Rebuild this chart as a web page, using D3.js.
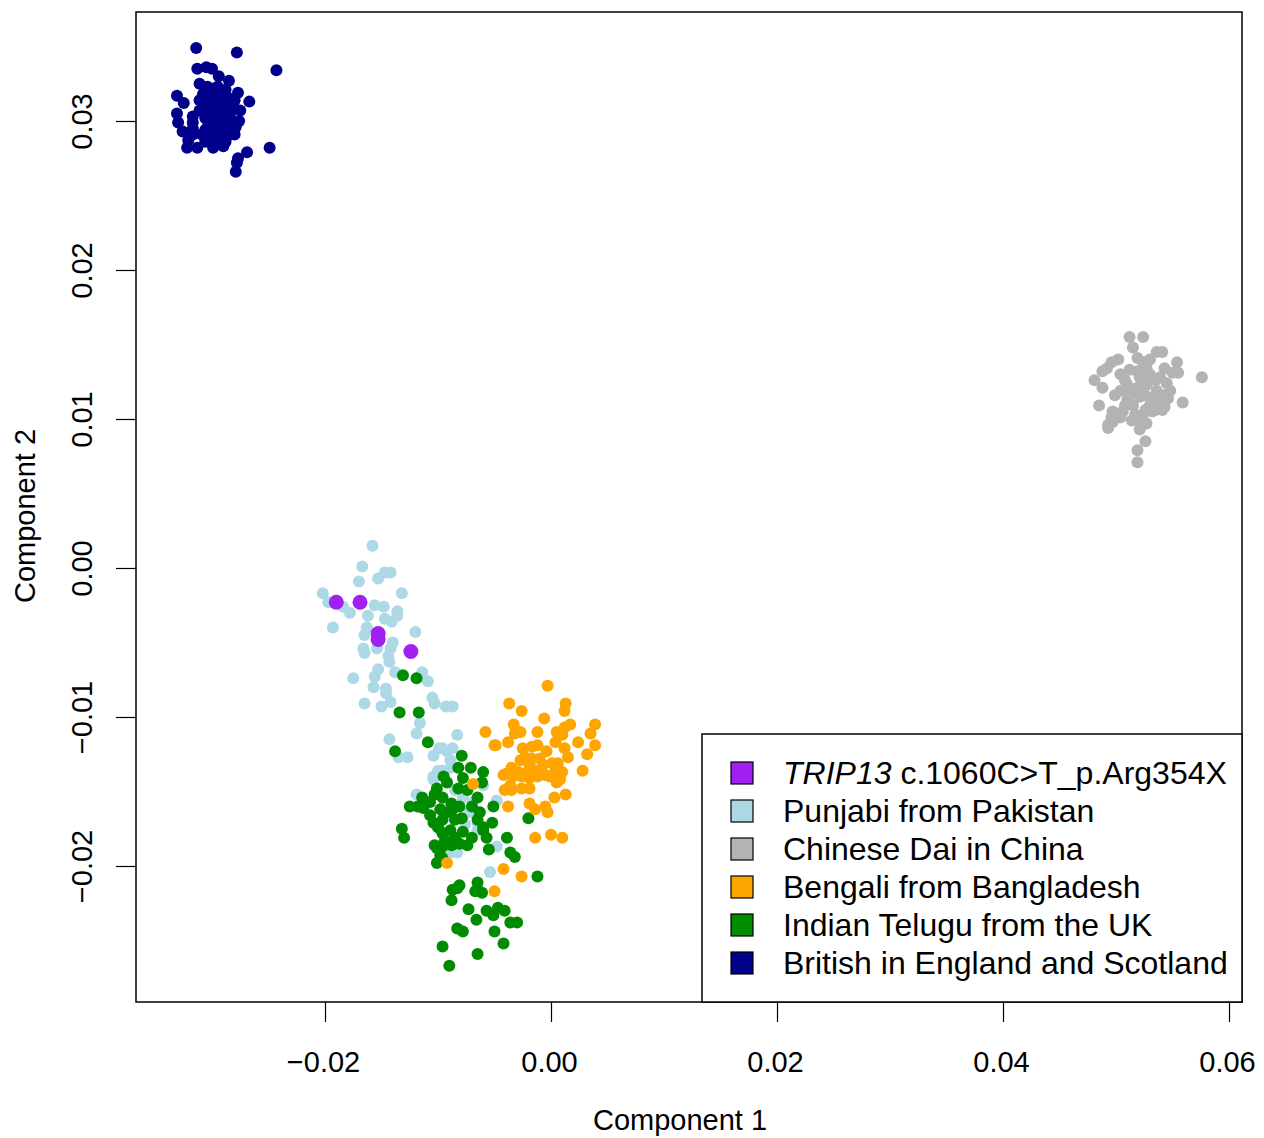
<!DOCTYPE html>
<html>
<head>
<meta charset="utf-8">
<script src="https://cdn.jsdelivr.net/npm/d3@7"></script>
<style>
  html, body { margin: 0; padding: 0; background: #fff; }
  svg { display: block; font-family: "Liberation Sans", Arial, Helvetica, sans-serif; }
</style>
</head>
<body>
<div id="chart"></div>
<script>
// PCA of samples: [component 1, component 2]
const british = [
  [-0.0314,0.0349],[-0.0278,0.0346],[-0.0243,0.0334],[-0.0313,0.0335],[-0.0305,0.0336],[-0.0300,0.0335],
  [-0.0294,0.0330],[-0.0285,0.0327],[-0.0311,0.0325],[-0.0304,0.0323],[-0.0295,0.0323],[-0.0288,0.0321],
  [-0.0331,0.0317],[-0.0325,0.0312],[-0.0277,0.0319],[-0.0267,0.0313],[-0.0308,0.0318],[-0.0299,0.0317],
  [-0.0291,0.0316],[-0.0283,0.0315],[-0.0305,0.0312],[-0.0297,0.0311],[-0.0288,0.0311],[-0.0281,0.0310],
  [-0.0311,0.0307],[-0.0302,0.0306],[-0.0293,0.0306],[-0.0284,0.0305],[-0.0275,0.0307],[-0.0331,0.0305],
  [-0.0330,0.0299],[-0.0317,0.0303],[-0.0317,0.0299],[-0.0306,0.0302],[-0.0299,0.0301],[-0.0291,0.0300],
  [-0.0282,0.0300],[-0.0276,0.0300],[-0.0304,0.0296],[-0.0296,0.0295],[-0.0287,0.0295],[-0.0279,0.0296],
  [-0.0326,0.0293],[-0.0317,0.0291],[-0.0309,0.0291],[-0.0300,0.0291],[-0.0293,0.0290],[-0.0284,0.0291],
  [-0.0302,0.0287],[-0.0288,0.0286],[-0.0322,0.0282],[-0.0313,0.0282],[-0.0299,0.0282],[-0.0290,0.0283],
  [-0.0249,0.0282],[-0.0269,0.0279],[-0.0277,0.0275],[-0.0278,0.0272],[-0.0279,0.0266],[-0.0296,0.0314],
  [-0.0286,0.0302],[-0.0295,0.0287],[-0.0306,0.0286],[-0.0317,0.0295],[-0.0321,0.0287],
  [-0.0306,0.0321],[-0.0297,0.0322],[-0.0288,0.0317],[-0.0280,0.0314],[-0.0300,0.0309],[-0.0291,0.0309],
  [-0.0297,0.0297],[-0.0306,0.0294],[-0.0288,0.0293],[-0.0280,0.0291],[-0.0297,0.0304],[-0.0311,0.0314]
];

const chineseDai = [
  [0.0512,0.0155],[0.0524,0.0155],[0.0515,0.0148],[0.0536,0.0145],[0.0541,0.0145],[0.0502,0.0140],
  [0.0496,0.0138],[0.0492,0.0134],[0.0488,0.0132],[0.0519,0.0141],[0.0524,0.0138],[0.0527,0.0134],
  [0.0554,0.0138],[0.0543,0.0134],[0.0550,0.0131],[0.0555,0.0131],[0.0481,0.0126],[0.0488,0.0121],
  [0.0576,0.0128],[0.0519,0.0132],[0.0521,0.0128],[0.0530,0.0130],[0.0539,0.0128],[0.0545,0.0124],
  [0.0510,0.0123],[0.0504,0.0119],[0.0499,0.0116],[0.0519,0.0121],[0.0527,0.0123],[0.0536,0.0119],
  [0.0542,0.0116],[0.0546,0.0114],[0.0521,0.0115],[0.0532,0.0114],[0.0539,0.0111],[0.0543,0.0108],
  [0.0510,0.0113],[0.0515,0.0109],[0.0506,0.0105],[0.0485,0.0109],[0.0559,0.0111],[0.0497,0.0105],
  [0.0496,0.0101],[0.0493,0.0096],[0.0497,0.0098],[0.0504,0.0101],[0.0524,0.0103],[0.0532,0.0105],
  [0.0541,0.0106],[0.0521,0.0098],[0.0527,0.0097],[0.0521,0.0093],[0.0526,0.0085],[0.0519,0.0079],
  [0.0519,0.0071],[0.0493,0.0094],[0.0512,0.0116],[0.0530,0.0109],[0.0517,0.0103],[0.0508,0.0126],
  [0.0535,0.0126],[0.0526,0.0116],
  [0.0504,0.0130],[0.0512,0.0133],[0.0511,0.0118],[0.0535,0.0106],[0.0514,0.0099],[0.0548,0.0119],
  [0.0530,0.0140],[0.0508,0.0109],[0.0526,0.0106]
];

const punjabi = [
  [-0.0158,0.0015],[-0.0167,0.0001],[-0.0147,-0.0003],[-0.0142,-0.0003],[-0.0170,-0.0009],[-0.0153,-0.0007],
  [-0.0202,-0.0017],[-0.0132,-0.0017],[-0.0197,-0.0023],[-0.0184,-0.0026],[-0.0178,-0.0030],[-0.0156,-0.0025],
  [-0.0148,-0.0026],[-0.0162,-0.0032],[-0.0136,-0.0029],[-0.0136,-0.0032],[-0.0141,-0.0036],[-0.0147,-0.0034],
  [-0.0193,-0.0040],[-0.0163,-0.0040],[-0.0165,-0.0045],[-0.0166,-0.0054],[-0.0165,-0.0057],[-0.0140,-0.0050],
  [-0.0142,-0.0054],[-0.0120,-0.0043],[-0.0154,-0.0054],[-0.0144,-0.0059],[-0.0143,-0.0063],[-0.0153,-0.0068],
  [-0.0175,-0.0074],[-0.0138,-0.0070],[-0.0114,-0.0070],[-0.0156,-0.0073],[-0.0109,-0.0076],[-0.0157,-0.0080],
  [-0.0146,-0.0081],[-0.0146,-0.0084],[-0.0165,-0.0091],[-0.0150,-0.0093],[-0.0142,-0.0090],[-0.0105,-0.0087],
  [-0.0103,-0.0091],[-0.0093,-0.0093],[-0.0087,-0.0093],[-0.0116,-0.0104],[-0.0119,-0.0111],[-0.0083,-0.0112],
  [-0.0143,-0.0115],[-0.0127,-0.0127],[-0.0135,-0.0127],[-0.0099,-0.0121],[-0.0104,-0.0126],[-0.0092,-0.0123],
  [-0.0087,-0.0121],[-0.0089,-0.0129],[-0.0096,-0.0136],[-0.0104,-0.0140],[-0.0096,-0.0121],[-0.0100,-0.0136],
  [-0.0089,-0.0134],[-0.0104,-0.0142],[-0.0078,-0.0154],[-0.0069,-0.0157],[-0.0060,-0.0146],[-0.0048,-0.0156],
  [-0.0119,-0.0152],[-0.0072,-0.0164],[-0.0065,-0.0171],[-0.0065,-0.0176],[-0.0083,-0.0191],[-0.0089,-0.0191],
  [-0.0048,-0.0187],[-0.0054,-0.0204],[-0.0085,-0.0149],[-0.0094,-0.0159],[-0.0076,-0.0172],[-0.0098,-0.0176]
];

const telugu = [
  [-0.0131,-0.0072],[-0.0119,-0.0074],[-0.0134,-0.0097],[-0.0117,-0.0097],[-0.0109,-0.0117],[-0.0138,-0.0123],
  [-0.0079,-0.0126],[-0.0082,-0.0134],[-0.0071,-0.0134],[-0.0060,-0.0137],[-0.0095,-0.0140],[-0.0078,-0.0141],
  [-0.0092,-0.0144],[-0.0082,-0.0148],[-0.0074,-0.0149],[-0.0061,-0.0144],[-0.0065,-0.0154],[-0.0101,-0.0148],
  [-0.0103,-0.0152],[-0.0107,-0.0157],[-0.0114,-0.0154],[-0.0118,-0.0160],[-0.0096,-0.0154],[-0.0088,-0.0158],
  [-0.0081,-0.0160],[-0.0125,-0.0160],[-0.0113,-0.0161],[-0.0107,-0.0166],[-0.0098,-0.0162],[-0.0092,-0.0164],
  [-0.0087,-0.0162],[-0.0070,-0.0160],[-0.0063,-0.0164],[-0.0051,-0.0160],[-0.0096,-0.0169],[-0.0085,-0.0169],
  [-0.0079,-0.0168],[-0.0104,-0.0171],[-0.0100,-0.0174],[-0.0065,-0.0169],[-0.0060,-0.0174],[-0.0052,-0.0171],
  [-0.0132,-0.0175],[-0.0130,-0.0181],[-0.0089,-0.0176],[-0.0096,-0.0178],[-0.0085,-0.0181],[-0.0078,-0.0177],
  [-0.0070,-0.0181],[-0.0060,-0.0176],[-0.0057,-0.0181],[-0.0039,-0.0181],[-0.0094,-0.0183],[-0.0096,-0.0187],
  [-0.0088,-0.0186],[-0.0074,-0.0186],[-0.0101,-0.0188],[-0.0098,-0.0193],[-0.0055,-0.0189],[-0.0036,-0.0191],
  [-0.0101,-0.0198],[-0.0096,-0.0195],[-0.0081,-0.0185],[-0.0032,-0.0194],[-0.0012,-0.0207],[-0.0081,-0.0213],
  [-0.0083,-0.0215],[-0.0087,-0.0216],[-0.0065,-0.0211],[-0.0065,-0.0216],[-0.0061,-0.0218],[-0.0067,-0.0217],
  [-0.0088,-0.0223],[-0.0073,-0.0229],[-0.0057,-0.0230],[-0.0051,-0.0233],[-0.0047,-0.0228],[-0.0041,-0.0230],
  [-0.0066,-0.0236],[-0.0036,-0.0238],[-0.0030,-0.0238],[-0.0083,-0.0242],[-0.0078,-0.0244],[-0.0050,-0.0244],
  [-0.0042,-0.0252],[-0.0096,-0.0254],[-0.0065,-0.0259],[-0.0090,-0.0267],[-0.0020,-0.0168],[-0.0103,-0.0186]
];

const bengali = [
  [-0.0058,-0.0110],[-0.0050,-0.0119],[-0.0038,-0.0117],[-0.0032,-0.0111],[-0.0039,-0.0138],[-0.0034,-0.0140],
  [-0.0036,-0.0146],[-0.0041,-0.0149],[-0.0035,-0.0149],[-0.0038,-0.0160],[-0.0003,-0.0079],[-0.0037,-0.0091],
  [0.0013,-0.0091],[0.0012,-0.0096],[-0.0026,-0.0096],[-0.0006,-0.0101],[-0.0033,-0.0105],[-0.0027,-0.0110],
  [0.0017,-0.0105],[0.0012,-0.0107],[0.0039,-0.0105],[-0.0012,-0.0110],[0.0005,-0.0110],[0.0010,-0.0112],
  [0.0035,-0.0111],[-0.0049,-0.0119],[-0.0025,-0.0121],[-0.0017,-0.0120],[-0.0012,-0.0119],[-0.0004,-0.0123],
  [0.0004,-0.0117],[0.0024,-0.0117],[0.0039,-0.0119],[0.0012,-0.0121],[0.0015,-0.0127],[0.0032,-0.0125],
  [-0.0023,-0.0127],[-0.0017,-0.0128],[-0.0010,-0.0128],[0.0001,-0.0131],[0.0006,-0.0131],[0.0004,-0.0136],
  [0.0010,-0.0137],[-0.0035,-0.0134],[-0.0042,-0.0139],[-0.0029,-0.0137],[-0.0021,-0.0137],[-0.0014,-0.0136],
  [-0.0007,-0.0132],[0.0028,-0.0136],[-0.0026,-0.0140],[-0.0019,-0.0141],[-0.0012,-0.0140],[-0.0001,-0.0140],
  [0.0005,-0.0144],[0.0008,-0.0142],[-0.0026,-0.0148],[-0.0019,-0.0148],[0.0013,-0.0152],[0.0003,-0.0154],
  [-0.0019,-0.0158],[-0.0014,-0.0162],[-0.0005,-0.0160],[-0.0003,-0.0164],[-0.0014,-0.0181],[0.0000,-0.0179],
  [0.0010,-0.0181],[-0.0092,-0.0198],[-0.0042,-0.0202],[-0.0026,-0.0207],[-0.0050,-0.0217],[-0.0019,-0.0132],
  [-0.0005,-0.0139],[-0.0027,-0.0129],[-0.0069,-0.0145]
];

const trip13 = [
  [-0.0190,-0.0023],[-0.0169,-0.0023],[-0.0153,-0.0044],[-0.0153,-0.0048],[-0.0124,-0.0056]
];

const legendLabels = [
  "TRIP13 c.1060C>T_p.Arg354X",
  "Punjabi from Pakistan",
  "Chinese Dai in China",
  "Bengali from Bangladesh",
  "Indian Telugu from the UK",
  "British in England and Scotland"
];
const legendColors = ["#A020F0", "#ADD8E6", "#B3B3B3", "#FFA500", "#008B00", "#00008B"];

const xTicks = [-0.02, 0.00, 0.02, 0.04, 0.06];
const yTicks = [-0.02, -0.01, 0.00, 0.01, 0.02, 0.03];

const width = 1264, height = 1138;
const margin = { top: 12, right: 22, bottom: 136, left: 136 };

const svg = d3.select("#chart").append("svg")
  .attr("width", width)
  .attr("height", height);

const x = d3.scaleLinear()
  .domain([-0.036726, 0.06115])
  .range([margin.left, width - margin.right]);

const y = d3.scaleLinear()
  .domain([-0.029128, 0.037315])
  .range([height - margin.bottom, margin.top]);

const fmt = d => (d < 0 ? "\u2212" : "") + Math.abs(d).toFixed(2);

// x axis
const xAxis = svg.append("g")
  .attr("transform", `translate(0,${height - margin.bottom})`)
  .call(d3.axisBottom(x).tickValues(xTicks).tickFormat(fmt).tickSize(20).tickSizeOuter(0).tickPadding(29));
xAxis.select(".domain").remove();
xAxis.selectAll("line").attr("stroke", "#000").attr("stroke-width", 1.2);
xAxis.selectAll("text").attr("font-size", 29).attr("fill", "#000")
  .attr("dx", -2)
  .attr("font-family", "Liberation Sans, Arial, sans-serif");

// y axis, labels rotated like R's default
const yAxis = svg.append("g")
  .attr("transform", `translate(${margin.left},0)`)
  .call(d3.axisLeft(y).tickValues(yTicks).tickFormat(fmt).tickSize(20).tickSizeOuter(0));
yAxis.select(".domain").remove();
yAxis.selectAll("line").attr("stroke", "#000").attr("stroke-width", 1.2);
yAxis.selectAll("text")
  .attr("x", null).attr("dy", null).attr("y", null)
  .attr("transform", "translate(-44,0) rotate(-90)")
  .attr("text-anchor", "middle")
  .attr("font-size", 29).attr("fill", "#000")
  .attr("font-family", "Liberation Sans, Arial, sans-serif");

// axis titles
svg.append("text")
  .attr("x", 680)
  .attr("y", 1130)
  .attr("text-anchor", "middle")
  .attr("font-size", 29)
  .text("Component 1");

svg.append("text")
  .attr("transform", "translate(35,516) rotate(-90)")
  .attr("text-anchor", "middle")
  .attr("font-size", 29)
  .text("Component 2");

// points, drawn in layers
const groups = [
  { data: punjabi, color: legendColors[1], r: 6 },
  { data: chineseDai, color: legendColors[2], r: 6 },
  { data: telugu, color: legendColors[4], r: 6 },
  { data: bengali, color: legendColors[3], r: 6 },
  { data: british, color: legendColors[5], r: 6 },
  { data: trip13, color: legendColors[0], r: 7.5 }
];

groups.forEach(g => {
  svg.append("g")
    .selectAll("circle")
    .data(g.data)
    .join("circle")
    .attr("cx", d => x(d[0]))
    .attr("cy", d => y(d[1]))
    .attr("r", g.r)
    .attr("fill", g.color);
});

// plot frame
svg.append("rect")
  .attr("x", margin.left)
  .attr("y", margin.top)
  .attr("width", width - margin.right - margin.left)
  .attr("height", height - margin.bottom - margin.top)
  .attr("fill", "none")
  .attr("stroke", "#000")
  .attr("stroke-width", 1.5);

// legend
const legendBox = { x: 702, y: 734, w: 540, h: 268 };
const legend = svg.append("g");
legend.append("rect")
  .attr("x", legendBox.x)
  .attr("y", legendBox.y)
  .attr("width", legendBox.w)
  .attr("height", legendBox.h)
  .attr("fill", "#fff")
  .attr("stroke", "#000")
  .attr("stroke-width", 1.5);

const rows = legend.selectAll("g.row")
  .data(legendLabels)
  .join("g")
  .attr("class", "row")
  .attr("transform", (d, i) => `translate(0,${773 + i * 38})`);

rows.append("rect")
  .attr("x", 731)
  .attr("y", -11)
  .attr("width", 22)
  .attr("height", 22)
  .attr("fill", (d, i) => legendColors[i])
  .attr("stroke", "#000")
  .attr("stroke-width", 1.2);

rows.append("text")
  .attr("x", 783)
  .attr("y", 11)
  .attr("font-size", 32)
  .each(function (d) {
    const t = d3.select(this);
    if (d.startsWith("TRIP13")) {
      t.append("tspan").attr("font-style", "italic").text("TRIP13");
      t.append("tspan").text(d.slice(6));
    } else {
      t.text(d);
    }
  });
</script>
</body>
</html>
